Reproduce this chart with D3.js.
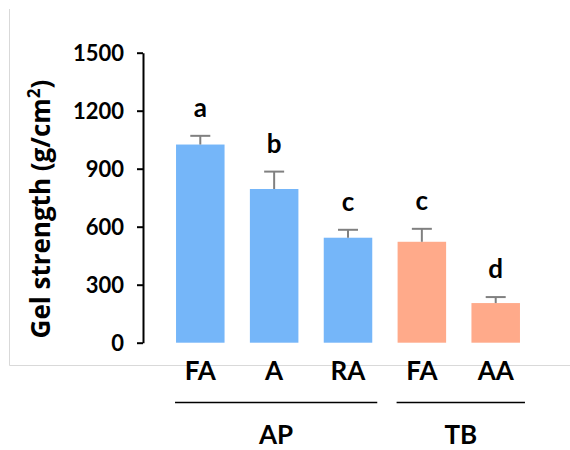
<!DOCTYPE html>
<html>
<head>
<meta charset="utf-8">
<script src="https://cdn.jsdelivr.net/npm/d3@7"></script>
<style>
  html, body { margin: 0; padding: 0; background: #fff; }
  svg text { font-family: Lato, "Open Sans", sans-serif; font-weight: 700; fill: #000; }
</style>
</head>
<body>
<svg id="chart" width="570" height="450"></svg>
<script>
// Gel strength by sample, grouped by source
const samples   = ["FA", "A", "RA", "FA", "AA"];
const groups    = ["AP", "AP", "AP", "TB", "TB"];
const strength  = [1025, 795, 543, 522, 205];
const errors    = [45, 90, 41, 67, 31];
const letters   = ["a", "b", "c", "c", "d"];
const yTicks    = [0, 300, 600, 900, 1200, 1500];
const groupNames = ["AP", "TB"];
const groupColor = { AP: "#75b6f9", TB: "#ffaa8a" };

const svg = d3.select("#chart");

// light frame on left and bottom
svg.append("line").attr("x1", 9.5).attr("x2", 9.5).attr("y1", 9).attr("y2", 365.5)
  .attr("stroke", "#d9d9d9").attr("stroke-width", 1);
svg.append("line").attr("x1", 9.5).attr("x2", 570).attr("y1", 365.5).attr("y2", 365.5)
  .attr("stroke", "#d9d9d9").attr("stroke-width", 1);

const idx = samples.map((d, i) => i);
const x = d3.scaleBand().domain(idx).range([150.7, 545.3]).paddingInner(0.343).paddingOuter(0.343);
const y = d3.scaleLinear().domain([0, 1500]).range([342.7, 52.7]);

// y axis
const yAxis = svg.append("g").attr("transform", "translate(143,0)")
  .call(d3.axisLeft(y).tickValues(yTicks).tickFormat(d3.format("d"))
    .tickSize(6).tickPadding(13).tickSizeOuter(0));
yAxis.select(".domain").attr("stroke", "#000").attr("stroke-width", 2);
yAxis.selectAll(".tick line").attr("stroke", "#000").attr("stroke-width", 2);
yAxis.selectAll(".tick text").style("font-size", "22px").attr("dy", "0.36em");

// y title
const title = svg.append("text")
  .attr("transform", "translate(50,209) rotate(-90)")
  .attr("text-anchor", "middle")
  .style("font-family", "'Open Sans', sans-serif")
  .style("font-size", "26px");
title.append("tspan").text("Gel strength (g/cm");
title.append("tspan").text("2").attr("dy", "-10").style("font-size", "17px");
title.append("tspan").text(")").attr("dy", "10");

// bars
svg.append("g").selectAll("rect").data(idx).join("rect")
  .attr("x", i => x(i))
  .attr("width", x.bandwidth())
  .attr("y", i => y(strength[i]))
  .attr("height", i => y(0) - y(strength[i]))
  .attr("fill", i => groupColor[groups[i]]);

// error bars (upper only)
const eb = svg.append("g").attr("stroke", "#808080").attr("stroke-width", 2);
idx.forEach(i => {
  const cx = x(i) + x.bandwidth() / 2;
  eb.append("line").attr("x1", cx).attr("x2", cx)
    .attr("y1", y(strength[i])).attr("y2", y(strength[i] + errors[i]));
  eb.append("line").attr("x1", cx - 10).attr("x2", cx + 10)
    .attr("y1", y(strength[i] + errors[i])).attr("y2", y(strength[i] + errors[i]));
});

// significance letters
svg.append("g").selectAll("text").data(idx).join("text")
  .attr("x", i => x(i) + x.bandwidth() / 2)
  .attr("y", i => y(strength[i] + errors[i]) - 19)
  .attr("text-anchor", "middle")
  .style("font-size", "26px")
  .text(i => letters[i]);

// sample labels
svg.append("g").selectAll("text").data(idx).join("text")
  .attr("x", i => x(i) + x.bandwidth() / 2)
  .attr("y", 379.5)
  .attr("text-anchor", "middle")
  .style("font-size", "26px")
  .text(i => samples[i]);

// group brackets and names
groupNames.forEach(g => {
  const members = idx.filter(i => groups[i] === g);
  const x0 = x(members[0]) - 1;
  const x1 = x(members[members.length - 1]) + x.bandwidth() + 5;
  svg.append("line").attr("x1", x0).attr("x2", x1).attr("y1", 402.5).attr("y2", 402.5)
    .attr("stroke", "#000").attr("stroke-width", 1.5);
  svg.append("text").attr("x", (x0 + x1) / 2).attr("y", 444)
    .attr("text-anchor", "middle").style("font-size", "26px").text(g);
});
</script>
</body>
</html>
